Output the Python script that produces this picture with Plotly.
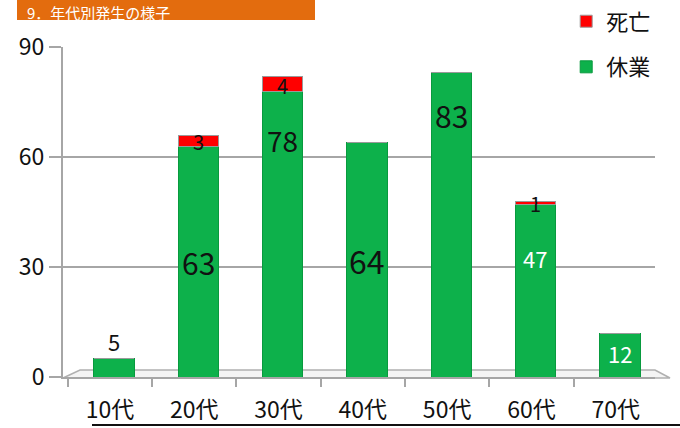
import plotly.graph_objects as go

# ---- data ----
categories = ["10代", "20代", "30代", "40代", "50代", "60代", "70代"]
kyugyo = [5, 63, 78, 64, 83, 47, 12]      # 休業
shibo = [0, 3, 4, 0, 0, 1, 0]             # 死亡
y_ticks = [0, 30, 60, 90]
title_text = "9．年代別発生の様子"

GREEN = "#0db14b"
RED = "#ff0000"
GRID = "#a6a6a6"
FONT = "Noto Sans CJK JP"

fig = go.Figure()
fig.add_trace(go.Bar(
    x=categories, y=kyugyo, name="休業",
    marker=dict(color=GREEN, line=dict(color="#089a3e", width=1)),
    width=0.48, offset=-0.19, legendgroup="a", legendrank=2,
))
fig.add_trace(go.Bar(
    x=categories, y=shibo, name="死亡",
    marker=dict(color=RED, line=dict(color="#9a9a9a", width=1)),
    width=0.48, offset=-0.19, legendgroup="b", legendrank=1,
))

# label styling (position fraction within segment, size, colour)
k_frac = [None, 0.5, 0.83, 0.5, 0.86, 0.69, 0.54]
k_size = [22, 30, 28, 32, 30, 22, 22]
k_col = ["#111", "#111", "#111", "#111", "#111", "#fff", "#fff"]
ann = []
for i, (c, v) in enumerate(zip(categories, kyugyo)):
    if k_frac[i] is None:
        y, yshift = v, 18
    else:
        y, yshift = v * k_frac[i], 0
    ann.append(dict(x=c, y=y, text=str(v), showarrow=False, xshift=4, yshift=yshift,
                    font=dict(family=FONT, size=k_size[i], color=k_col[i]),
                    xref="x", yref="y"))
for i, (c, base, v) in enumerate(zip(categories, kyugyo, shibo)):
    if v > 0:
        ann.append(dict(x=c, y=base + v * 0.4, text=str(v), showarrow=False, xshift=4,
                        font=dict(family=FONT, size=20, color="#111"),
                        xref="x", yref="y"))

# title box at the top of the page
ann.append(dict(x=-0.065, y=1.142, xref="paper", yref="paper", text=title_text,
                showarrow=False, xanchor="left", yanchor="top",
                font=dict(family=FONT, size=15, color="white")))

W_PLOT = 680 - 63 - 25
H_PLOT = 330


def px(x):
    return (x - 63) / W_PLOT


def py(y):
    return (377 - y) / H_PLOT


floor_path = (f"M {px(63)},{py(378)} L {px(80)},{py(370)} L {px(655)},{py(370)} "
              f"L {px(670)},{py(378)} Z")

fig.update_layout(
    width=680, height=428,
    margin=dict(l=63, r=25, t=47, b=51, autoexpand=False),
    plot_bgcolor="white", paper_bgcolor="white",
    barmode="stack",
    font=dict(family=FONT, color="#111"),
    showlegend=True,
    legend=dict(x=0.85, y=0.999, xref="paper", yref="container",
                xanchor="left", yanchor="top",
                traceorder="grouped", tracegroupgap=14,
                font=dict(family=FONT, size=22, color="#111"),
                bgcolor="rgba(0,0,0,0)"),
    xaxis=dict(type="category", range=[-0.557, 6.466], tickson="boundaries",
               ticks="outside", ticklen=8, tickcolor=GRID, tickwidth=2,
               showline=True, linecolor=GRID, linewidth=2, ticklabelstandoff=11,
               tickfont=dict(family=FONT, size=23, color="#111"), showgrid=False),
    yaxis=dict(range=[0, 90], tickvals=y_ticks, ticks="outside", ticklen=12,
               tickcolor=GRID, tickwidth=2, showline=True, linecolor=GRID, linewidth=2,
               gridcolor=GRID, gridwidth=2, zeroline=False,
               tickfont=dict(family=FONT, size=23, color="#111")),
    annotations=ann,
    shapes=[
        dict(type="rect", xref="paper", yref="paper", x0=px(17), x1=px(315),
             y0=py(20), y1=py(-20), fillcolor="#e36c0e", line=dict(width=0), layer="below"),
        dict(type="path", xref="paper", yref="paper", path=floor_path,
             fillcolor="#f4f4f4", line=dict(color="#b0b0b0", width=1.5), layer="below"),
        dict(type="line", xref="paper", yref="paper", x0=px(92), x1=px(682),
             y0=py(425), y1=py(425), line=dict(color="#111", width=2)),
    ],
)

fig.write_html("out.html", config={"displayModeBar": False},
               post_script="document.body.style.margin='0';")
